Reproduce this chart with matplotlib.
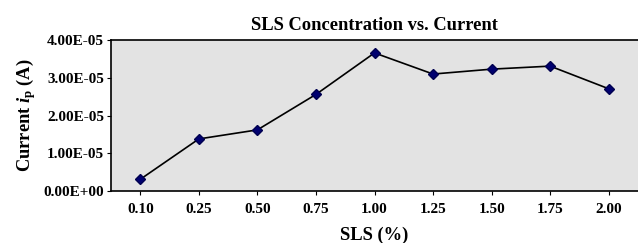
import matplotlib
matplotlib.use("Agg")
import matplotlib.pyplot as plt

sls = ["0.10", "0.25", "0.50", "0.75", "1.00", "1.25", "1.50", "1.75", "2.00"]
current = [3.1e-6, 1.38e-5, 1.62e-5, 2.56e-5, 3.66e-5, 3.10e-5, 3.23e-5, 3.31e-5, 2.71e-5]

plt.rcParams['font.family'] = 'Liberation Serif'
plt.rcParams['font.weight'] = 'bold'
plt.rcParams['mathtext.fontset'] = 'custom'
plt.rcParams['mathtext.rm'] = 'Liberation Serif:bold'
plt.rcParams['mathtext.it'] = 'Liberation Serif:bold:italic'

fig = plt.figure(figsize=(6.38, 2.43), dpi=100)
ax = fig.add_axes([0.174, 0.214, 0.826, 0.621])
ax.set_facecolor('#e3e3e3')

x = range(len(sls))
ax.plot(x, current, color='black', lw=1.2, marker='D', ms=5.5,
        markerfacecolor='#000070', markeredgecolor='#000050')

ax.set_xlim(-0.5, 8.5)
ax.set_ylim(0, 4e-5)
ax.set_xticks(list(x))
ax.set_xticklabels(sls)
ax.set_yticks([0, 1e-5, 2e-5, 3e-5, 4e-5])
ax.set_yticklabels(["0.00E+00", "1.00E-05", "2.00E-05", "3.00E-05", "4.00E-05"])
ax.tick_params(axis='both', labelsize=11, length=3, width=0.8)
ax.tick_params(axis='x', pad=6)
ax.tick_params(axis='y', pad=2)

for s in ['left', 'top', 'bottom']:
    ax.spines[s].set_linewidth(1.2)
ax.spines['right'].set_visible(False)

ax.set_title("SLS Concentration vs. Current", fontsize=13.3, fontweight='bold', pad=7)
ax.set_xlabel("SLS (%)", fontsize=13.3, fontweight='bold', labelpad=7)
ax.set_ylabel(r"Current $\mathit{i}_\mathrm{p}$ (A)", fontsize=13.3, fontweight='bold', labelpad=4)

fig.savefig("out.png", dpi=100)
